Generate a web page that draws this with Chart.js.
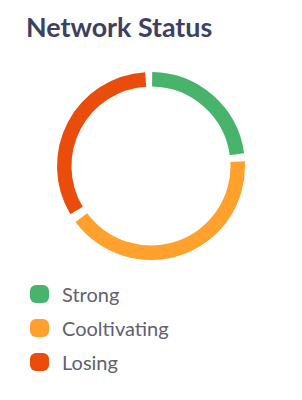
<!DOCTYPE html>
<html>
<head>
<meta charset="utf-8">
<script src="https://cdn.jsdelivr.net/npm/chart.js@4.4.0/dist/chart.umd.min.js"></script>
<style>
  body { margin: 0; background: #fff; width: 302px; height: 400px; position: relative; overflow: hidden; font-family: Lato, sans-serif; }
  #title { position: absolute; left: 26px; top: 14px; font-size: 26.8px; line-height: 26px; font-weight: 700; color: #3d4065; white-space: nowrap; }
  #chartBox { position: absolute; left: 0; top: 72px; width: 302px; height: 188px; }
  #legend { position: absolute; left: 30px; top: 277px; }
  .row { display: flex; align-items: center; height: 34px; }
  .swatch { width: 19px; height: 18px; border-radius: 6px; margin-right: 13px; }
  .label { font-size: 20px; color: #5f6170; }
</style>
</head>
<body>
<div id="title">Network Status</div>
<div id="chartBox"><canvas id="statusChart"></canvas></div>
<div id="legend"></div>
<script>
const labels = ["Strong", "Cooltivating", "Losing"];
const values = [23.6, 42.4, 34];
const colors = ["#48b36b", "#ffa12c", "#ea4d0b"];

const ctx = document.getElementById("statusChart").getContext("2d");
const statusChart = new Chart(ctx, {
  type: "doughnut",
  data: {
    labels: labels,
    datasets: [
      {
        data: values,
        backgroundColor: colors,
        borderWidth: 0,
        spacing: 7,
      },
    ],
  },
  options: {
    responsive: true,
    maintainAspectRatio: false,
    animation: false,
    cutout: "84%",
    rotation: -1,
    layout: { padding: 0 },
    plugins: {
      legend: { display: false },
      tooltip: { enabled: false },
    },
  },
});

// legend list under the ring
labels.forEach((name, i) => {
  const row = document.createElement("div");
  row.className = "row";
  row.innerHTML = `<div class="swatch" style="background:${colors[i]}"></div><span class="label">${name}</span>`;
  document.getElementById("legend").appendChild(row);
});
</script>
</body>
</html>
